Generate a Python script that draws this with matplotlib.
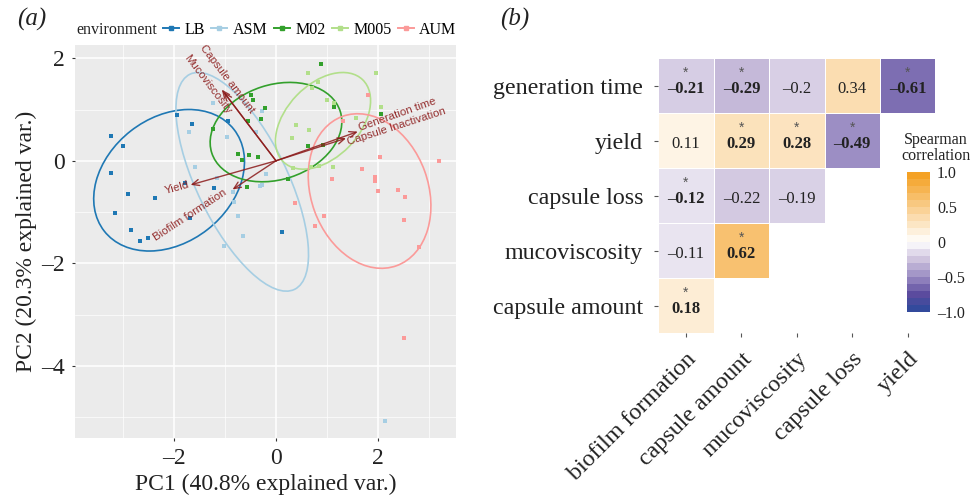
import numpy as np
import matplotlib
matplotlib.use("Agg")
import matplotlib.pyplot as plt
from matplotlib.patches import Ellipse
from matplotlib.lines import Line2D
from matplotlib.colors import LinearSegmentedColormap, Normalize
from matplotlib.cm import ScalarMappable

SERIF = "Liberation Serif"
SANS = "Liberation Sans"

# ---- panel (a): PCA biplot ----
envs = ["LB", "ASM", "M02", "M005", "AUM"]
env_colors = ["#1f78b4", "#a6cee3", "#33a02c", "#b2df8a", "#fb9a99"]

pc1 = {
    "LB": [-3.22, -2.99, -3.22, -2.90, -3.14, -2.84, -2.66, -2.50, -2.37, -1.94,
           -1.65, -1.78, -1.69, -1.21, -0.93, 0.11],
    "ASM": [-1.24, -1.70, -1.59, -1.16, -0.96, -0.84, -0.82, -0.75, -0.65, -1.02,
            -0.27, -0.39, -0.19, -0.27, -0.31, 2.14],
    "M02": [0.88, -0.48, -0.44, -0.22, -0.29, -1.24, -0.54, -0.74, -0.66, -0.52,
            -0.36, -0.56, 0.24, 0.62, 0.92, 1.14, 2.05],
    "M005": [0.63, 0.82, 0.70, 1.96, 1.00, 1.13, 2.06, 1.57, 0.40, 0.65, 0.32,
             0.34, 0.68, 0.84, 1.11],
    "AUM": [1.80, 1.31, 2.03, 3.19, 1.68, 1.94, 1.94, 1.99, 2.39, 2.53, 1.09,
            0.37, 0.93, 0.76, 2.50, 2.79, 2.50],
}
pc2 = {
    "LB": [0.48, 0.28, -0.23, -0.64, -1.01, -1.36, -1.56, -1.50, -0.72, 0.89,
           0.71, -0.44, -1.12, -0.54, 0.78, -1.39],
    "ASM": [1.12, 0.57, -0.12, -0.34, 0.46, -0.60, -0.80, -1.08, -1.46, -1.66,
            0.97, 0.56, -0.26, -0.48, -0.50, -5.08],
    "M02": [1.89, 1.29, 1.19, 1.03, 0.81, 0.63, 0.78, 0.13, 0.02, 0.12, 0.08,
            -0.51, -0.36, 0.28, 0.30, 1.05, 0.92],
    "M005": [1.71, 1.53, 1.43, 1.71, 1.19, 1.12, 1.05, 0.84, 0.70, 0.61, 0.44,
             -0.14, -0.12, -0.10, -0.12],
    "AUM": [1.29, 0.78, 0.07, 0.00, -0.16, -0.31, -0.39, -0.58, -0.57, -0.71,
            -0.36, -0.83, -1.08, -1.27, -1.16, -1.68, -3.45],
}

# 68% normal ellipses: centre x, centre y, width, height, angle
ell_cx = [-2.09, -0.66, 0.00, 0.92, 1.83]
ell_cy = [-0.38, -0.41, 0.56, 0.78, -0.59]
ell_w = [3.22, 4.67, 2.64, 2.23, 3.10]
ell_h = [2.44, 1.77, 1.85, 1.43, 2.29]
ell_ang = [38, -64, 18, 46, -70]

var_names = ["Capsule amount", "Mucoviscosity", "Generation time",
             "Capsule Inactivation", "Yield", "Biofilm formation"]
var_x = [-1.06, -1.02, 1.60, 1.37, -1.67, -0.85]
var_y = [1.39, 1.34, 0.57, 0.44, -0.47, -0.56]
lab_x = [-0.95, -1.33, 2.38, 2.35, -1.94, -1.69]
lab_y = [1.60, 1.49, 0.90, 0.67, -0.52, -1.05]

# ---- panel (b): Spearman correlations ----
rows = ["generation time", "yield", "capsule loss", "mucoviscosity", "capsule amount"]
cols = ["biofilm formation", "capsule amount", "mucoviscosity", "capsule loss", "yield"]
nan = np.nan
rho = np.array([
    [-0.21, -0.29, -0.20, 0.34, -0.61],
    [0.11, 0.29, 0.28, -0.49, nan],
    [-0.12, -0.22, -0.19, nan, nan],
    [-0.11, 0.62, nan, nan, nan],
    [0.18, nan, nan, nan, nan],
])
signif = np.array([
    [1, 1, 0, 0, 1],
    [0, 1, 1, 1, 0],
    [1, 0, 0, 0, 0],
    [0, 1, 0, 0, 0],
    [1, 0, 0, 0, 0],
], dtype=bool)
cbar_ticks = [1.0, 0.5, 0, -0.5, -1.0]
cbar_labels = ["1.0", "0.5", "0", "\u20130.5", "\u20131.0"]

W, H = 971, 499
fig = plt.figure(figsize=(W / 100, H / 100), dpi=100)

# ------------------------------------------------ (a)
ax = fig.add_axes([75 / W, 1 - 438 / H, 381 / W, 393 / H])
ax.set_facecolor("#ebebeb")
for s in ax.spines.values():
    s.set_visible(False)
ax.set_xlim(-3.93, 3.52)
ax.set_ylim(-5.41, 2.26)
ax.set_xticks([-2, 0, 2])
ax.set_xticklabels(["\u20132", "0", "2"])
ax.set_yticks([-4, -2, 0, 2])
ax.set_yticklabels(["\u20134", "\u20132", "0", "2"])
ax.set_xticks([-3, -1, 1, 3], minor=True)
ax.set_yticks([-5, -3, -1, 1], minor=True)
ax.grid(which="major", color="white", lw=1.1)
ax.grid(which="minor", color="white", lw=0.5)
ax.set_axisbelow(True)
ax.tick_params(which="major", length=2.5, width=0.8, color="#333333", pad=5,
               labelsize=17, labelcolor="#222222")
ax.tick_params(which="minor", length=0)
for t in ax.get_xticklabels() + ax.get_yticklabels():
    t.set_fontfamily(SERIF)
ax.set_xlabel("PC1 (40.8% explained var.)", fontsize=17, family=SERIF,
              color="#222222", labelpad=3)
ax.set_ylabel("PC2 (20.3% explained var.)", fontsize=17, family=SERIF,
              color="#222222", labelpad=3)

for i, env in enumerate(envs):
    ax.scatter(pc1[env], pc2[env], s=6, marker="s", color=env_colors[i],
               lw=0, zorder=3)
    ax.add_patch(Ellipse((ell_cx[i], ell_cy[i]), ell_w[i], ell_h[i],
                         angle=ell_ang[i], fill=False, ec=env_colors[i],
                         lw=1.2, zorder=2))

arrow_col = "#8b1a1a"
for i, name in enumerate(var_names):
    ax.annotate("", xy=(var_x[i], var_y[i]), xytext=(0, 0),
                arrowprops=dict(arrowstyle="->,head_length=0.5,head_width=0.22",
                                color=arrow_col, lw=1.0, alpha=0.85,
                                shrinkA=0, shrinkB=0), zorder=4)
    rot = np.degrees(np.arctan(var_y[i] / var_x[i]))
    ax.text(lab_x[i], lab_y[i], name, rotation=rot, rotation_mode="anchor",
            ha="center", va="center", fontsize=8.2, family=SANS,
            color=arrow_col, alpha=0.9, zorder=5)

handles = [Line2D([], [], alpha=0)]
for c in env_colors:
    handles.append(Line2D([], [], color=c, lw=1.4, marker="s", ms=2.5))
leg = fig.legend(handles, ["environment"] + envs, ncol=6, loc="center left",
                 bbox_to_anchor=(55 / W, 1 - 30 / H), frameon=False,
                 prop={"family": SERIF, "size": 11.5}, handlelength=1.0,
                 handletextpad=0.35, columnspacing=0.38, borderaxespad=0,
                 borderpad=0)
leg.get_texts()[0].set_color("#222222")

fig.text(17 / W, 1 - 19 / H, "(a)", fontsize=18, family=SERIF, style="italic",
         va="center", ha="left", color="#222222")
fig.text(500 / W, 1 - 19 / H, "(b)", fontsize=18, family=SERIF, style="italic",
         va="center", ha="left", color="#222222")

# ------------------------------------------------ (b)
cmap = LinearSegmentedColormap.from_list("spear", [
    (0.0, "#2a4a9b"), (0.125, "#5b4b9e"), (0.25, "#9a8cc3"), (0.375, "#cec3de"),
    (0.5, "#ffffff"), (1.0, "#f39c19")])
norm = Normalize(-1, 1)

hx = fig.add_axes([658.3 / W, 1 - 333.3 / H, 277 / W, 275 / H])
hx.pcolormesh(np.arange(len(cols) + 1), np.arange(len(rows) + 1),
              np.ma.masked_invalid(rho), cmap=cmap, norm=norm,
              edgecolors="white", linewidth=0.6)
hx.set_xlim(0, len(cols))
hx.set_ylim(len(rows), 0)
for s in hx.spines.values():
    s.set_visible(False)
hx.set_xticks(np.arange(len(cols)) + 0.5)
hx.set_xticklabels(cols, rotation=45, ha="right", va="top",
                   rotation_mode="anchor")
hx.set_yticks(np.arange(len(rows)) + 0.5)
hx.set_yticklabels(rows)
hx.tick_params(length=3, width=0.8, color="#555555", pad=8, labelsize=17.3,
               labelcolor="#222222")
for t in hx.get_xticklabels() + hx.get_yticklabels():
    t.set_fontfamily(SERIF)

for r in range(len(rows)):
    for c in range(len(cols)):
        v = rho[r, c]
        if np.isnan(v):
            continue
        txt = f"{v:g}".replace("-", "\u2013")
        hx.text(c + 0.5, r + 0.56, txt, ha="center", va="center",
                fontsize=12, family=SERIF, color="#222222",
                weight="bold" if signif[r, c] else "normal")
        if signif[r, c]:
            hx.text(c + 0.5, r + 0.27, "*", ha="center", va="center",
                    fontsize=10, family=SANS, color="#555555")

cax = fig.add_axes([907 / W, 1 - 312 / H, 23 / W, 140 / H])
cb = fig.colorbar(ScalarMappable(norm=norm, cmap=cmap), cax=cax,
                  boundaries=np.linspace(-1, 1, 21))
cb.outline.set_visible(False)
cb.set_ticks(cbar_ticks)
cb.set_ticklabels(cbar_labels)
cax.tick_params(length=0, pad=5, labelsize=11.5, labelcolor="#222222")
for t in cax.get_yticklabels():
    t.set_fontfamily(SERIF)
fig.text(936 / W, 1 - 148 / H, "Spearman\ncorrelation", ha="center",
         va="center", fontsize=11.5, family=SERIF, color="#222222",
         linespacing=1.05)

fig.savefig("out.png", dpi=100)
